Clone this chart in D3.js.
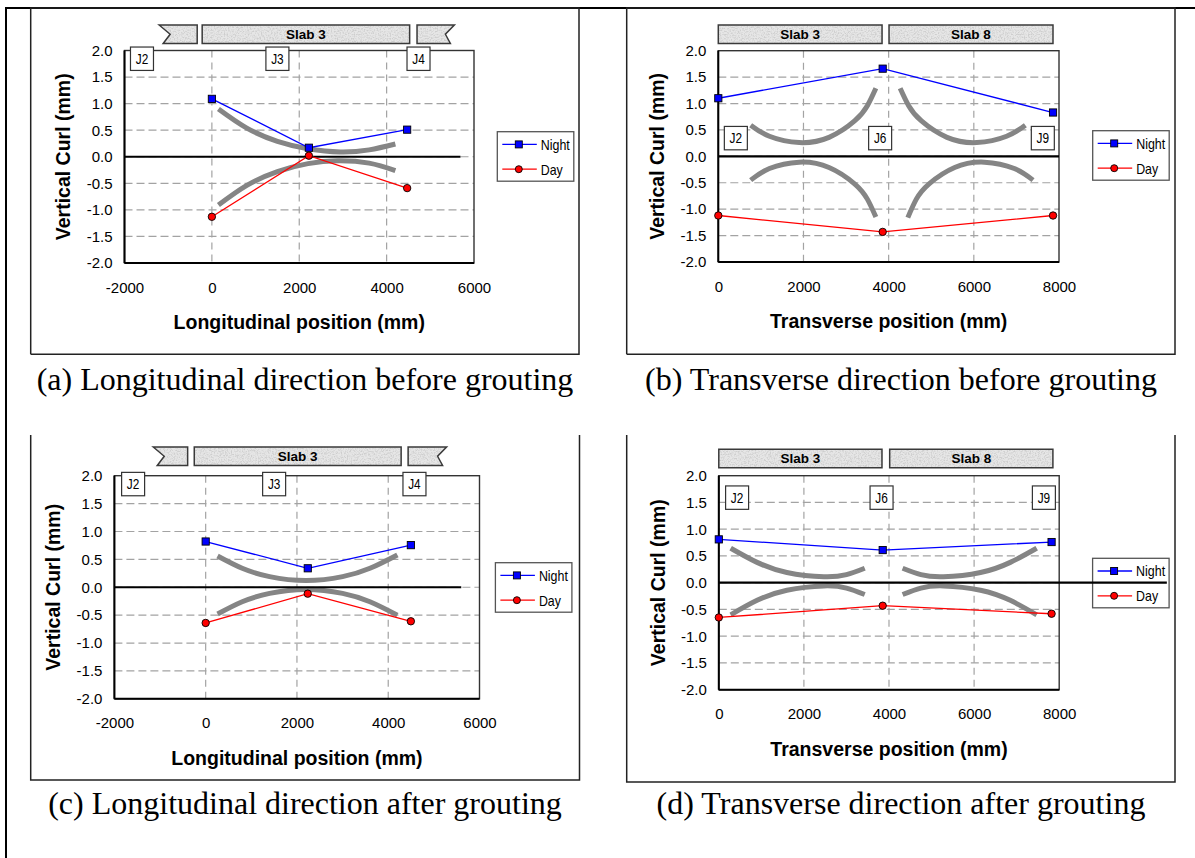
<!DOCTYPE html>
<html><head><meta charset="utf-8">
<script src="https://cdn.jsdelivr.net/npm/d3@7"></script>
<style>
body{margin:0;background:#fff;}
svg{display:block;}
text{font-family: Arial, "Liberation Sans", sans-serif;}
text.cap{font-family: "Times New Roman", "Liberation Serif", serif;}
</style></head><body>
<svg id="fig" width="1195" height="858"></svg>
<script>
// ---------- shared ----------
const yTicks = [-2, -1.5, -1, -0.5, 0, 0.5, 1, 1.5, 2];
const longTicks = [-2000, 0, 2000, 4000, 6000];
const transTicks = [0, 2000, 4000, 6000, 8000];
const seriesNames = ["Night", "Day"];

// ---------- (a) longitudinal, before grouting ----------
const aX = [0, 2220, 4470];
const aNight = [1.09, 0.17, 0.51];
const aDay = [-1.13, 0.02, -0.59];
const aArcUpper = [[150,0.90],[800,0.54],[1500,0.29],[2200,0.15],[2940,0.09],[3600,0.13],[4200,0.24]];
const aArcLower = [[150,-0.91],[800,-0.54],[1500,-0.28],[2200,-0.13],[2880,-0.075],[3600,-0.12],[4200,-0.26]];
const aJoints = ["J2", "J3", "J4"];
const aJointX = [-1600, 1500, 4730];
const aJointY = 1.845;
const aSlabLabels = ["", "Slab 3", ""];
const aSlabStart = [-1207, -222, 4696];
const aSlabEnd = [-336, 4527, 5551];
const aSlabShape = ["notchLeft", "plain", "notchRight"];
const aZeroEnd = 5690;

// ---------- (b) transverse, before grouting ----------
const bX = [0, 3860, 7860];
const bNight = [1.10, 1.66, 0.83];
const bDay = [-1.12, -1.43, -1.12];
const bArcs = [
  [[760,0.59],[1200,0.38],[1900,0.26],[2600,0.36],[3200,0.67],[3500,0.96],[3700,1.29]],
  [[4270,1.29],[4470,0.96],[4770,0.67],[5370,0.36],[6070,0.26],[6770,0.38],[7210,0.59]],
  [[760,-0.45],[1200,-0.23],[1900,-0.11],[2600,-0.21],[3200,-0.52],[3500,-0.81],[3700,-1.15]],
  [[4450,-1.16],[4650,-0.81],[4950,-0.52],[5550,-0.21],[6250,-0.11],[6950,-0.23],[7390,-0.45]]
];
const bJoints = ["J2", "J6", "J9"];
const bJointX = [412, 3800, 7620];
const bJointY = 0.345;
const bSlabLabels = ["Slab 3", "Slab 8"];
const bSlabStart = [0, 4009];
const bSlabEnd = [3845, 7859];
const bSlabShape = ["plain", "plain"];
const bZeroEnd = 8000;

// ---------- (c) longitudinal, after grouting ----------
const cX = [0, 2237, 4496];
const cNight = [0.82, 0.34, 0.755];
const cDay = [-0.64, -0.115, -0.61];
const cArcUpper = [[260,0.56],[800,0.34],[1400,0.19],[2200,0.12],[3000,0.19],[3600,0.34],[4200,0.58]];
const cArcLower = [[260,-0.48],[800,-0.26],[1400,-0.11],[2200,-0.04],[3000,-0.11],[3600,-0.26],[4200,-0.50]];
const cJoints = ["J2", "J3", "J4"];
const cJointX = [-1590, 1500, 4575];
const cJointY = 1.85;
const cSlabLabels = ["", "Slab 3", ""];
const cSlabStart = [-1149, -250, 4436];
const cSlabEnd = [-395, 4283, 5279];
const cSlabShape = ["notchLeft", "plain", "notchRight"];
const cZeroEnd = 5600;

// ---------- (d) transverse, after grouting ----------
const dX = [0, 3852, 7821];
const dNight = [0.81, 0.61, 0.76];
const dDay = [-0.65, -0.43, -0.58];
const dArcs = [
  [[280,0.645],[900,0.38],[1600,0.19],[2470,0.11],[3000,0.15],[3430,0.27]],
  [[4320,0.27],[4750,0.15],[5280,0.11],[6150,0.19],[6850,0.38],[7470,0.645]],
  [[280,-0.60],[900,-0.33],[1600,-0.14],[2470,-0.06],[3000,-0.10],[3430,-0.22]],
  [[4320,-0.22],[4750,-0.10],[5280,-0.06],[6150,-0.14],[6850,-0.33],[7470,-0.60]]
];
const dJoints = ["J2", "J6", "J9"];
const dJointX = [430, 3825, 7640];
const dJointY = 1.59;
const dSlabLabels = ["Slab 3", "Slab 8"];
const dSlabStart = [0, 4016];
const dSlabEnd = [3835, 7852];
const dSlabShape = ["plain", "plain"];
const dZeroEnd = 10530;

const captions = [
  "(a) Longitudinal direction before grouting",
  "(b) Transverse direction before grouting",
  "(c) Longitudinal direction after grouting",
  "(d) Transverse direction after grouting"
];
const xTitles = ["Longitudinal position (mm)", "Transverse position (mm)"];
const yTitle = "Vertical Curl (mm)";

// ---------- layout ----------
const panels = [
  {xDomain:[-2000,6000], xTicks:longTicks, l:124.5, r:474, t:50.5, b:263,
   xs:aX, night:aNight, day:aDay, arcs:[aArcUpper,aArcLower],
   joints:aJoints, jointX:aJointX, jointY:aJointY,
   slabLabels:aSlabLabels, slabStart:aSlabStart, slabEnd:aSlabEnd, slabShape:aSlabShape,
   slabTop:25, slabBot:43.5, zeroEnd:aZeroEnd, leg:[497.3,131.7],
   xTitle:xTitles[0], caption:captions[0], box:{l:30.7,r:579,t:8,b:354.3,top:true}, capY:390, capX:305},
  {xDomain:[0,8000], xTicks:transTicks, l:718.3, r:1059, t:50.7, b:262,
   xs:bX, night:bNight, day:bDay, arcs:bArcs,
   joints:bJoints, jointX:bJointX, jointY:bJointY,
   slabLabels:bSlabLabels, slabStart:bSlabStart, slabEnd:bSlabEnd, slabShape:bSlabShape,
   slabTop:25, slabBot:43.5, zeroEnd:bZeroEnd, leg:[1092.7,130.7],
   xTitle:xTitles[1], caption:captions[1], box:{l:626.7,r:1175,t:8,b:354.3,top:true}, capY:390, capX:901},
  {xDomain:[-2000,6000], xTicks:longTicks, l:114.4, r:479.5, t:475.7, b:698.8,
   xs:cX, night:cNight, day:cDay, arcs:[cArcUpper,cArcLower],
   joints:cJoints, jointX:cJointX, jointY:cJointY,
   slabLabels:cSlabLabels, slabStart:cSlabStart, slabEnd:cSlabEnd, slabShape:cSlabShape,
   slabTop:447, slabBot:465.5, zeroEnd:cZeroEnd, leg:[495.4,562.7],
   xTitle:xTitles[0], caption:captions[2], box:{l:30.7,r:579.5,t:435,b:780,top:false}, capY:814, capX:305},
  {xDomain:[0,8000], xTicks:transTicks, l:718.8, r:1059.2, t:475.7, b:689.7,
   xs:dX, night:dNight, day:dDay, arcs:dArcs,
   joints:dJoints, jointX:dJointX, jointY:dJointY,
   slabLabels:dSlabLabels, slabStart:dSlabStart, slabEnd:dSlabEnd, slabShape:dSlabShape,
   slabTop:449.3, slabBot:467.7, zeroEnd:dZeroEnd, leg:[1092.6,558.3],
   xTitle:xTitles[1], caption:captions[3], box:{l:626.7,r:1175,t:435,b:782,top:false}, capY:814, capX:901}
];

const svg = d3.select("#fig");
const defs = svg.append("defs");
defs.html(`
<filter id="speckle" x="0" y="0" width="100%" height="100%">
  <feTurbulence type="fractalNoise" baseFrequency="0.7" numOctaves="2" seed="5" result="noise"/>
  <feColorMatrix in="noise" type="matrix" values="0 0 0 0 0.62  0 0 0 0 0.62  0 0 0 0 0.62  3.2 0 0 0 -1.35" result="dots"/>
  <feComposite in="dots" in2="SourceGraphic" operator="in" result="d2"/>
  <feMerge><feMergeNode in="SourceGraphic"/><feMergeNode in="d2"/></feMerge>
</filter>`);

// outer frame
svg.append("line").attr("x1",5).attr("x2",1195).attr("y1",8).attr("y2",8).attr("stroke","#000").attr("stroke-width",2.2);
svg.append("line").attr("x1",6).attr("x2",6).attr("y1",8).attr("y2",858).attr("stroke","#000").attr("stroke-width",2);

panels.forEach(p => {
  const g = svg.append("g");
  const x = d3.scaleLinear().domain(p.xDomain).range([p.l, p.r]);
  const y = d3.scaleLinear().domain([-2, 2]).range([p.b, p.t]);

  // panel box
  const bx = p.box;
  const boxPts = bx.top
    ? [[bx.l,bx.b],[bx.l,bx.t],[bx.r,bx.t],[bx.r,bx.b],[bx.l,bx.b]]
    : [[bx.l,bx.t],[bx.l,bx.b],[bx.r,bx.b],[bx.r,bx.t]];
  g.append("path").attr("d", d3.line()(boxPts)).attr("fill","none").attr("stroke","#222").attr("stroke-width",1.5);

  // gridlines
  g.selectAll(".hg").data(yTicks.filter(v => v > -2 && v < 2)).join("line")
    .attr("x1", p.l).attr("x2", p.r).attr("y1", d => y(d)).attr("y2", d => y(d))
    .attr("stroke", "#a3a3a3").attr("stroke-width", 1.2).attr("stroke-dasharray", "8,4");
  g.selectAll(".vg").data(p.xTicks.filter(v => v > p.xDomain[0] && v < p.xDomain[1])).join("line")
    .attr("x1", d => x(d)).attr("x2", d => x(d)).attr("y1", p.t).attr("y2", p.b)
    .attr("stroke", "#a3a3a3").attr("stroke-width", 1.2).attr("stroke-dasharray", "7,5");

  // frame
  g.append("rect").attr("x", p.l).attr("y", p.t).attr("width", p.r - p.l).attr("height", p.b - p.t)
    .attr("fill", "none").attr("stroke", "#333").attr("stroke-width", 1.4);
  g.append("line").attr("x1", p.l).attr("x2", p.l).attr("y1", p.t).attr("y2", p.b).attr("stroke","#000").attr("stroke-width",2);
  g.append("line").attr("x1", p.l).attr("x2", p.r).attr("y1", p.b).attr("y2", p.b).attr("stroke","#000").attr("stroke-width",2);

  // axes
  const ya = g.append("g").attr("transform", `translate(${p.l},0)`)
    .call(d3.axisLeft(y).tickValues(yTicks).tickSize(0).tickPadding(12).tickFormat(d => d.toFixed(1)));
  const xa = g.append("g").attr("transform", `translate(0,${p.b})`)
    .call(d3.axisBottom(x).tickValues(p.xTicks).tickSize(0).tickPadding(19).tickFormat(d => String(d)));
  [ya, xa].forEach(a => {
    a.select(".domain").remove();
    a.selectAll("text").attr("font-size", "15px").attr("fill", "#000");
  });

  // curl-shape arcs
  const arcLine = d3.line().x(d => x(d[0])).y(d => y(d[1])).curve(d3.curveNatural);
  g.selectAll(".arc").data(p.arcs).join("path").attr("d", arcLine)
    .attr("fill", "none").attr("stroke", "#858585").attr("stroke-width", 5);

  // legend (drawn before zero line so the line shows through)
  const [lx, ly] = p.leg;
  const lg = g.append("g");
  lg.append("rect").attr("x", lx).attr("y", ly).attr("width", 76.5).attr("height", 49.5)
    .attr("fill", "none").attr("stroke", "#555").attr("stroke-width", 1.3);

  // zero line
  g.append("line").attr("x1", x(p.xDomain[0])).attr("x2", x(p.zeroEnd)).attr("y1", y(0)).attr("y2", y(0))
    .attr("stroke", "#000").attr("stroke-width", 2.2);

  // series
  const pts = (vals) => p.xs.map((xv, i) => [xv, vals[i]]);
  const sLine = d3.line().x(d => x(d[0])).y(d => y(d[1]));
  g.append("path").attr("d", sLine(pts(p.night))).attr("fill","none").attr("stroke","#0000ff").attr("stroke-width",1.3);
  g.append("path").attr("d", sLine(pts(p.day))).attr("fill","none").attr("stroke","#ff0000").attr("stroke-width",1.3);
  g.selectAll(".nm").data(pts(p.night)).join("rect")
    .attr("x", d => x(d[0]) - 3.6).attr("y", d => y(d[1]) - 3.6).attr("width", 7.2).attr("height", 7.2)
    .attr("fill", "#0000ff").attr("stroke", "#000").attr("stroke-width", 0.9);
  g.selectAll(".dm").data(pts(p.day)).join("circle")
    .attr("cx", d => x(d[0])).attr("cy", d => y(d[1])).attr("r", 3.7)
    .attr("fill", "#ff0000").attr("stroke", "#000").attr("stroke-width", 0.9);

  // legend entries
  const rows = [
    {name: seriesNames[0], color: "#0000ff", shape: "sq", dy: 12.7, len: 29},
    {name: seriesNames[1], color: "#ff0000", shape: "ci", dy: 37.5, len: 22}
  ];
  rows.forEach(rw => {
    const cy = ly + rw.dy;
    lg.append("line").attr("x1", lx + 5).attr("x2", lx + 39.5).attr("y1", cy).attr("y2", cy)
      .attr("stroke", rw.color).attr("stroke-width", 1.3);
    if (rw.shape === "sq") {
      lg.append("rect").attr("x", lx + 21.5 - 3.5).attr("y", cy - 3.5).attr("width", 7).attr("height", 7)
        .attr("fill", rw.color).attr("stroke", "#000").attr("stroke-width", 0.9);
    } else {
      lg.append("circle").attr("cx", lx + 21.5).attr("cy", cy).attr("r", 3.5)
        .attr("fill", rw.color).attr("stroke", "#000").attr("stroke-width", 0.9);
    }
    lg.append("text").attr("x", lx + 43.5).attr("y", cy).attr("dy", "0.36em")
      .attr("font-size", "15px").attr("textLength", rw.len).attr("lengthAdjust", "spacingAndGlyphs")
      .text(rw.name);
  });

  // joint boxes
  p.joints.forEach((jn, i) => {
    const cx = x(p.jointX[i]), cy = y(p.jointY);
    g.append("rect").attr("x", cx - 11.5).attr("y", cy - 11.7).attr("width", 23).attr("height", 23.4)
      .attr("fill", "#fff").attr("stroke", "#333").attr("stroke-width", 1.2);
    g.append("text").attr("x", cx).attr("y", cy).attr("dy", "0.36em").attr("text-anchor", "middle")
      .attr("font-size", "14px").attr("textLength", 12.5).attr("lengthAdjust", "spacingAndGlyphs").text(jn);
  });

  // slab banners
  p.slabLabels.forEach((lab, i) => {
    const x0 = x(p.slabStart[i]), x1 = x(p.slabEnd[i]);
    const t = p.slabTop, b = p.slabBot, m = (t + b) / 2;
    let poly;
    if (p.slabShape[i] === "notchLeft") poly = [[x0,t],[x0+11,m],[x0+4,b],[x1,b],[x1,t]];
    else if (p.slabShape[i] === "notchRight") poly = [[x0,t],[x1,t],[x1-9,m],[x1-4,b],[x0,b]];
    else poly = [[x0,t],[x1,t],[x1,b],[x0,b]];
    const dPath = d3.line()(poly) + "Z";
    g.append("path").attr("d", dPath).attr("fill", "#e6e6e6").attr("filter", "url(#speckle)");
    g.append("path").attr("d", dPath).attr("fill", "none").attr("stroke", "#3a3a3a").attr("stroke-width", 1.5);
    if (lab) {
      g.append("text").attr("x", (x0 + x1) / 2).attr("y", m).attr("dy", "0.36em").attr("text-anchor", "middle")
        .attr("font-size", "13.5px").attr("font-weight", "bold").text(lab);
    }
  });

  // titles
  g.append("text").attr("x", (p.l + p.r) / 2).attr("y", p.b + 59.5).attr("dy", "0.35em")
    .attr("text-anchor", "middle").attr("font-size", "19.5px").attr("font-weight", "bold").text(p.xTitle);
  g.append("text").attr("transform", `translate(${p.l - 61},${(p.t + p.b) / 2}) rotate(-90)`)
    .attr("dy", "0.35em").attr("text-anchor", "middle").attr("font-size", "19.5px").attr("font-weight", "bold").text(yTitle);

  // caption
  g.append("text").attr("class", "cap").attr("x", p.capX).attr("y", p.capY).attr("text-anchor", "middle")
    .attr("font-size", "32px").text(p.caption);
});
</script>
</body></html>
